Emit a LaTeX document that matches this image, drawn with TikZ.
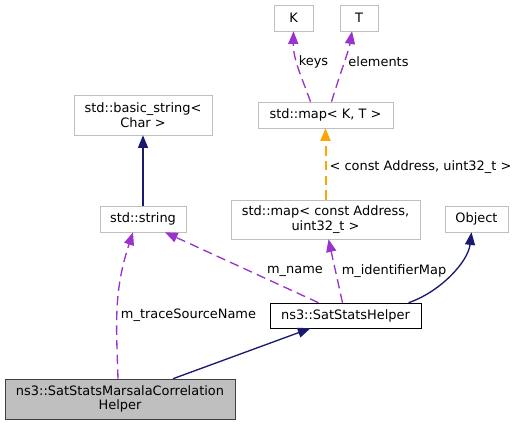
\documentclass[tikz,border=0pt]{standalone}
\usepackage{fontspec}
\setmainfont{DejaVu Sans}
\usepackage{xcolor}
\usetikzlibrary{arrows.meta,calc,positioning}
\definecolor{boxgray}{HTML}{BFBFBF}
\definecolor{rootgray}{HTML}{404040}
\definecolor{navyedge}{HTML}{191970}
\definecolor{purpleedge}{HTML}{9A32CD}
\definecolor{orangeedge}{HTML}{FFA500}
\tikzset{%
	cls/.style      = {draw=boxgray, rectangle, inner sep=0pt, align=center, minimum height=19.5pt}, % Class
	cur/.style      = {cls, draw=black}, % Helper
	root/.style     = {cls, draw=rootgray, fill=boxgray, minimum height=30pt}, % Root
	lbl/.style      = {inner sep=0pt}, % Edge label
}
\tikzset{%
	tip/.style      = {-{Triangle[length=9.5pt,width=7.5pt]}},
	inherit/.style  = {tip, navyedge, line width=1pt},
	usage/.style    = {tip, purpleedge, line width=1pt, dash pattern=on 7pt off 4pt},
	tmpl/.style     = {tip, orangeedge, line width=1.5pt, dash pattern=on 7pt off 4pt},
}

\begin{document}
\begin{tikzpicture}[x=0.75pt,y=-0.75pt,font=\fontsize{9.7pt}{11pt}\selectfont]
	\useasboundingbox (0,0) rectangle (518,425);
	\node [cls,minimum width=29.25pt] (k) at (293.5,18) {K};
	\node [cls,minimum width=28.5pt] (t) at (359,18) {T};
	\node [cls,minimum width=101.25pt] (mapkt) at (325.5,115) {std::map< K, T >};
	\node [cls,minimum width=103.5pt,minimum height=30pt] (bstr) at (143,115) {std::basic\_string<\\Char >};
	\node [cls,minimum width=64.5pt] (str) at (143,219) {std::string};
	\node [cls,minimum width=141.75pt,minimum height=29.25pt] (mapaddr) at (325.5,219.5) {std::map< const Address,\\uint32\_t >};
	\node [cls,minimum width=47.25pt] (obj) at (476.5,219) {Object};
	\node [cur,minimum width=113.25pt,minimum height=18.75pt] (helper) at (345.5,315.5) {ns3::SatStatsHelper};
	\node [root,minimum width=172.5pt] (marsala) at (120,399) {ns3::SatStatsMarsalaCorrelation\\Helper};
	
	\draw[inherit] (str) -- (bstr);
	\draw[usage] ($(mapkt.north)+(-15,0)$) .. controls (303,80) and (293,60) .. (k.south);
	\draw[usage] ($(mapkt.north)+(6,0)$) .. controls (338,80) and (349,50) .. ($(t.south)+(-7,0)$);
	\draw[tmpl] (mapaddr.north) -- (mapkt.south);
	\draw[usage] ($(marsala.north)+(-2,0)$) .. controls (116,320) and (114,290) .. ($(str.south)+(-10,0)$);
	\draw[usage] ($(helper.north)+(-27,0)$) -- ($(str.south)+(22,0)$);
	\draw[usage] ($(helper.north)+(-3,0)$) -- ($(mapaddr.south)+(3,0)$);
	\draw[inherit] ($(helper.north)+(63,0)$) .. controls (440,292) and (468,262) .. ($(obj.south)+(-5,0)$);
	\draw[inherit] ($(marsala.north)+(53,0)$) -- ($(helper.south)+(-35,0)$);
	
	\node[lbl] (lkeys) at (313.5,62) {keys};
	\node[lbl] (lelem) at (378.5,62) {elements};
	\node[lbl] (ltmpl) at (420.5,167) {< const Address, uint32\_t >};
	\node[lbl] (ltrace) at (188.5,315) {m\_traceSourceName};
	\node[lbl] (lname) at (295,271) {m\_name};
	\node[lbl] (lident) at (394,271) {m\_identifierMap};
\end{tikzpicture}
\end{document}
